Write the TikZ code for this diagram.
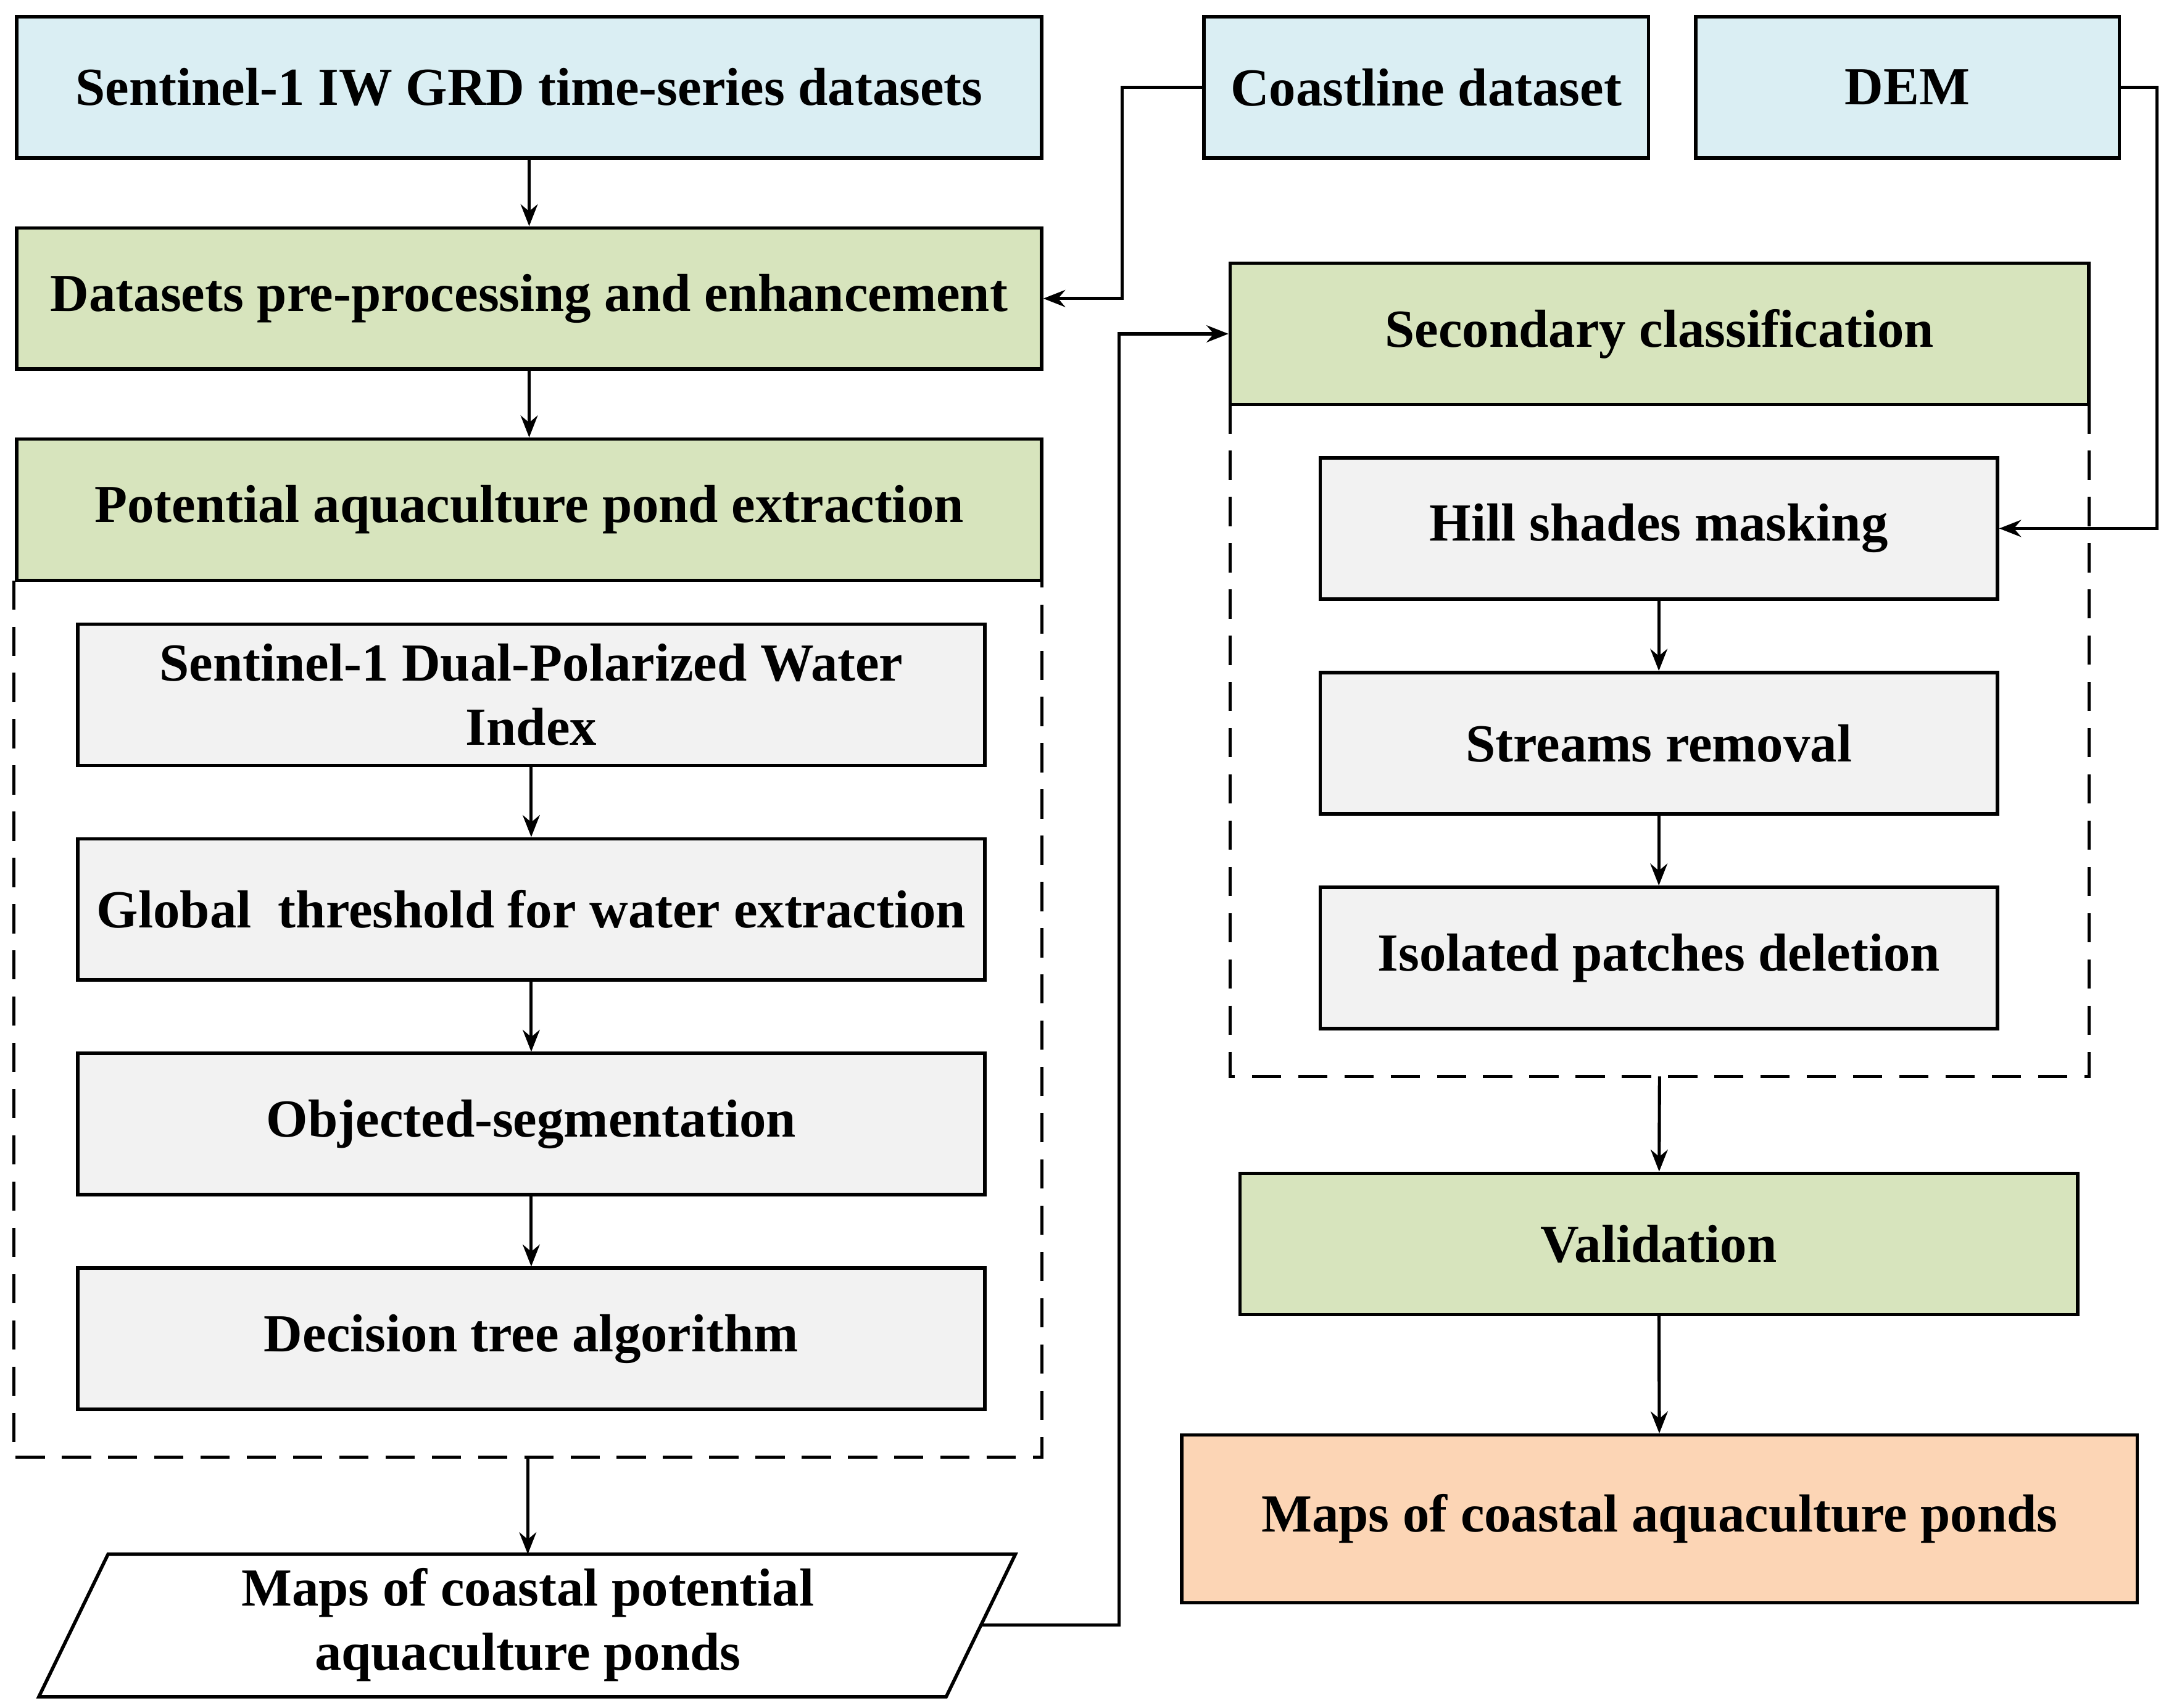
\documentclass[tikz,border=0pt]{standalone}
\usepackage{fontspec}
\setmainfont{Liberation Serif}
\usetikzlibrary{arrows.meta}
\definecolor{cblue}{HTML}{DAEEF3}
\definecolor{cgreen}{HTML}{D7E4BD}
\definecolor{cgray}{HTML}{F2F2F2}
\definecolor{cpeach}{HTML}{FCD5B5}
\begin{document}
\begin{tikzpicture}[x=0.02cm,y=-0.02cm,
  box/.style={draw,line width=1.4pt,inner sep=2pt,align=center,font=\fontsize{22}{26.5}\selectfont\bfseries,minimum height=2.04cm},
  blue/.style={box,fill=cblue},
  green/.style={box,fill=cgreen},
  gray/.style={box,fill=cgray},
  peach/.style={box,fill=cpeach},
  arr/.style={line width=1.3pt,-{Stealth[length=9pt,width=7pt]}},
  dashbox/.style={line width=1.3pt,dash pattern=on 12pt off 7pt}]
\useasboundingbox (0,0) rectangle (1560,1233);
\node[blue,minimum width=14.8cm] (s1) at (382,63) {Sentinel-1 IW GRD time-series datasets};
\node[blue,minimum width=6.42cm] (coast) at (1029.5,63) {Coastline dataset};
\node[blue,minimum width=6.12cm] (dem) at (1377,63) {DEM};
\node[green,minimum width=14.8cm] (pre) at (382,215.5) {Datasets pre-processing and enhancement};
\node[green,minimum width=14.8cm] (pot) at (382,368) {Potential aquaculture pond extraction};
\draw[dashbox] (10,419) -- (10,1052) -- (752,1052) -- (752,419);
\node[gray,minimum width=13.1cm] (sdwi) at (383.5,501.5) {Sentinel-1 Dual-Polarized Water\\Index};
\node[gray,minimum width=13.1cm] (glob) at (383.5,656.5) {Global\ \ threshold for water extraction};
\node[gray,minimum width=13.1cm] (obj) at (383.5,811.5) {Objected-segmentation};
\node[gray,minimum width=13.1cm] (dec) at (383.5,966.5) {Decision tree algorithm};
\draw[line width=1.4pt,fill=white] (78,1122) -- (733,1122) -- (683,1225) -- (28,1225) -- cycle;
\node[box,draw=none,minimum height=0pt] (par) at (381,1173) {Maps of coastal potential\\aquaculture ponds};
\coordinate (parT) at (381,1122);
\coordinate (parR) at (708,1173);
\coordinate (dashL) at (381,1052);
\node[green,minimum width=12.4cm] (sec) at (1198,241) {Secondary classification};
\draw[dashbox] (888,292) -- (888,777) -- (1508,777) -- (1508,292);
\node[gray,minimum width=9.78cm] (hill) at (1197.5,381.5) {Hill shades masking};
\node[gray,minimum width=9.78cm] (str) at (1197.5,536.5) {Streams removal};
\node[gray,minimum width=9.78cm] (iso) at (1197.5,691.5) {Isolated patches deletion};
\coordinate (dashR) at (1198,777);
\node[green,minimum width=12.1cm] (val) at (1197.5,898) {Validation};
\node[peach,minimum width=13.8cm,minimum height=2.42cm] (maps) at (1198,1096.5) {Maps of coastal aquaculture ponds};
\draw[arr] (s1) -- (pre);
\draw[arr] (pre) -- (pot);
\draw[arr] (sdwi) -- (glob);
\draw[arr] (glob) -- (obj);
\draw[arr] (obj) -- (dec);
\draw[arr] (dashL) -- (parT);
\draw[arr] (coast.west) -- (810,63) |- (pre.east);
\draw[arr] (parR) -- (808,1173) |- (sec.west);
\draw[arr] (dem.east) -- (1557,63) |- (hill.east);
\draw[arr] (hill) -- (str);
\draw[arr] (str) -- (iso);
\draw[arr] (dashR) -- (val);
\draw[arr] (val) -- (maps);
\end{tikzpicture}
\end{document}
